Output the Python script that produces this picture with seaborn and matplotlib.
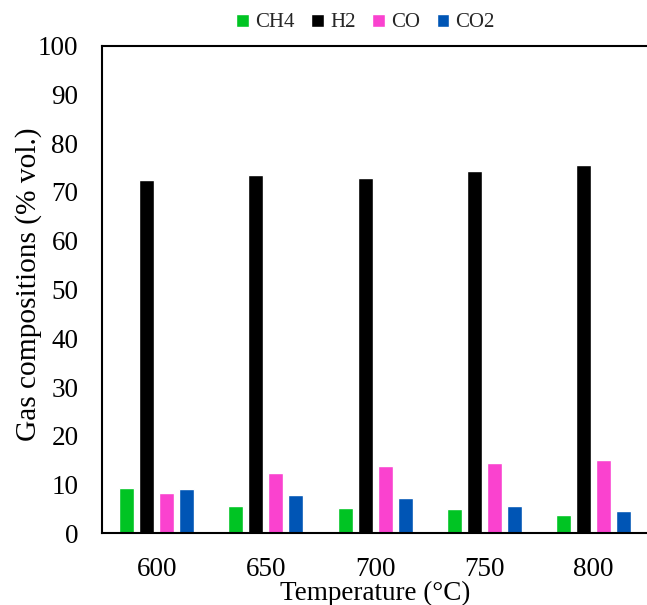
import matplotlib
matplotlib.use("Agg")
import matplotlib.pyplot as plt
import seaborn as sns
import pandas as pd

temperatures = ["600", "650", "700", "750", "800"]
gases = ["CH4", "H2", "CO", "CO2"]
ch4 = [9.3, 5.6, 5.1, 4.9, 3.8]
h2 = [72.4, 73.5, 72.8, 74.2, 75.6]
co = [8.3, 12.3, 13.9, 14.4, 15.0]
co2 = [9.1, 7.9, 7.2, 5.6, 4.6]
y_ticks = [0, 10, 20, 30, 40, 50, 60, 70, 80, 90, 100]

colors = {"CH4": "#00C423", "H2": "#000000", "CO": "#FA42CF", "CO2": "#0055B5"}

rows = []
for g, vals in zip(gases, [ch4, h2, co, co2]):
    for t, v in zip(temperatures, vals):
        rows.append({"Temperature": t, "Gas": g, "Value": v})
df = pd.DataFrame(rows)

sns.set_theme(style="white")
plt.rcParams["font.family"] = ["Liberation Serif", "DejaVu Serif"]

fig = plt.figure(figsize=(6.47, 6.05), dpi=100)
ax = fig.add_axes([0.1577, 0.1185, 1.0 - 0.1577 + 0.002, 0.9245 - 0.1185])

sns.barplot(data=df, x="Temperature", y="Value", hue="Gas", order=temperatures,
            hue_order=gases, palette=colors, width=0.733, gap=0.25,
            saturation=1, ax=ax, legend=True)

ax.set_xlim(-0.5, 4.5)
ax.set_ylim(0, 100)
ax.set_yticks(y_ticks)
ax.set_yticklabels([str(v) for v in y_ticks])
ax.tick_params(axis="both", length=0, labelsize=19.5, colors="black")
ax.tick_params(axis="x", pad=17)
ax.tick_params(axis="y", pad=17)
ax.set_xlabel("Temperature (°C)", fontsize=19.5, color="black", labelpad=-1)
ax.set_ylabel("Gas compositions (% vol.)", fontsize=21.2, color="black")
ax.yaxis.set_label_coords(-0.11, 0.51)

for s in ["left", "bottom", "top"]:
    ax.spines[s].set_color("black")
    ax.spines[s].set_linewidth(1.5)
ax.spines["right"].set_visible(False)

handles, labels = ax.get_legend_handles_labels()
ax.get_legend().remove()
fig.legend(handles, labels, loc="center", bbox_to_anchor=(0.565, 0.962), ncol=4,
           frameon=False, fontsize=15, handlelength=0.6, handleheight=0.6,
           handletextpad=0.3, columnspacing=0.8)

fig.savefig("out.png", dpi=100)
